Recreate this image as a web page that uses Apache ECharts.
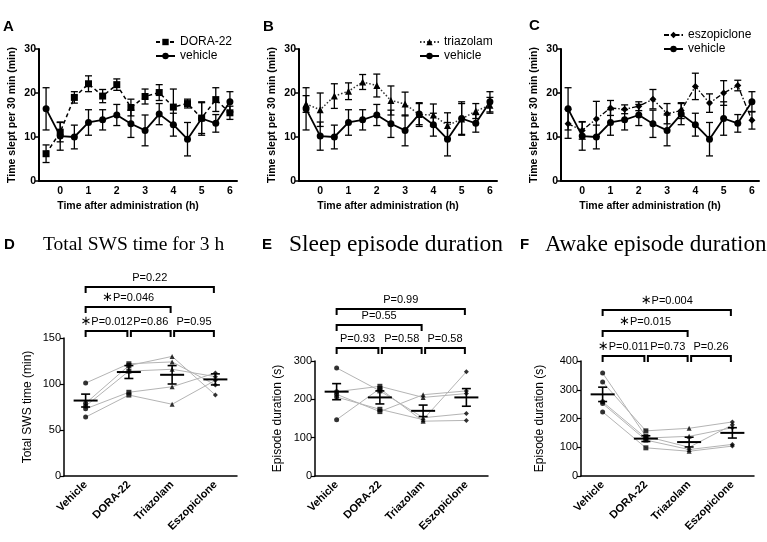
<!DOCTYPE html>
<html><head><meta charset="utf-8">
<script src="https://cdn.jsdelivr.net/npm/echarts@6/dist/echarts.min.js"></script>
<style>html,body{margin:0;padding:0;background:#fff}#c{width:767px;height:542px}</style>
</head><body><div id="c"></div>
<script>
// ---------- DATA ----------
const times = ['-0.5','0','0.5','1','1.5','2','2.5','3','3.5','4','4.5','5','5.5','6'];
const yTicksTop = [0, 10, 20, 30];

const vehicleMean = [16.4, 10.2, 10.0, 13.3, 13.9, 15.0, 13.0, 11.5, 15.2, 12.8, 9.5, 14.2, 13.1, 18.0];
const vehicleSem  = [4.8, 3.2, 2.7, 2.9, 2.3, 2.4, 3.1, 3.5, 2.4, 2.6, 3.8, 3.8, 2.0, 2.3];

const dora22Mean = [6.2, 11.1, 19.0, 22.1, 19.3, 21.9, 16.7, 19.2, 20.1, 16.8, 17.6, 14.3, 18.5, 15.5];
const dora22Sem  = [2.0, 2.2, 1.3, 1.8, 1.5, 1.3, 1.9, 1.7, 1.8, 4.1, 1.0, 3.5, 2.7, 1.5];

const triazolamMean = [17.5, 16.2, 19.3, 20.4, 22.5, 21.7, 18.3, 17.5, 15.1, 15.0, 12.6, 14.1, 15.9, 17.2];
const triazolamSem  = [1.9, 3.8, 2.8, 1.9, 1.7, 2.6, 3.3, 2.7, 2.7, 2.5, 2.9, 3.5, 1.7, 1.8];

const eszopicloneMean = [13.0, 11.5, 14.1, 16.6, 16.3, 17.0, 18.6, 15.3, 16.0, 21.5, 17.7, 20.0, 21.7, 13.8];
const eszopicloneSem  = [3.3, 2.0, 4.0, 1.7, 1.0, 1.0, 2.2, 2.3, 1.8, 3.0, 2.1, 2.8, 1.2, 2.0];

const groups = ['Vehicle', 'DORA-22', 'Triazolam', 'Eszopiclone'];

// Total SWS time for 3 h (min), individual animals across groups
const swsAnimals = [
  [101, 122, 124, 99],
  [79, 120, 130, 88],
  [76, 114, 116, 108],
  [73, 91, 97, 112],
  [64, 88, 78, 104]
];
const swsMean = [82, 113, 110, 105];
const swsSem  = [7, 7, 10, 6];
const swsBrackets = [[0, 1, '∗P=0.012', 0], [1, 2, 'P=0.86', 0], [2, 3, 'P=0.95', 0], [0, 2, '∗P=0.046', 1], [0, 3, 'P=0.22', 2]];

// Sleep episode duration (s)
const sleepAnimals = [
  [282, 222, 152, 163],
  [220, 234, 205, 215],
  [213, 168, 212, 222],
  [206, 174, 147, 272],
  [147, 228, 143, 145]
];
const sleepMean = [220, 205, 170, 205];
const sleepSem  = [21, 17, 15, 23];
const sleepBrackets = [[0, 1, 'P=0.93', 0], [1, 2, 'P=0.58', 0], [2, 3, 'P=0.58', 0], [0, 2, 'P=0.55', 1], [0, 3, 'P=0.99', 2]];

// Awake episode duration (s)
const awakeAnimals = [
  [358, 138, 100, 178],
  [327, 157, 166, 188],
  [258, 132, 138, 168],
  [252, 125, 92, 110],
  [223, 98, 86, 104]
];
const awakeMean = [284, 130, 118, 150];
const awakeSem  = [25, 10, 17, 18];
const awakeBrackets = [[0, 1, '∗P=0.011', 0], [1, 2, 'P=0.73', 0], [2, 3, 'P=0.26', 0], [0, 2, '∗P=0.015', 1], [0, 3, '∗P=0.004', 2]];

// ---------- LAYOUT / STYLE ----------
const SANS = '"Liberation Sans", Arial, Helvetica, sans-serif';
const SERIF = '"Liberation Serif", "Times New Roman", serif';
const topGrids = [
  {left: 39, top: 49, width: 198, height: 132},
  {left: 299, top: 49, width: 198, height: 132},
  {left: 561, top: 49, width: 198, height: 132}
];
const botGrids = [
  {left: 64, top: 338, width: 173, height: 138},
  {left: 315, top: 361, width: 173, height: 115},
  {left: 581, top: 361, width: 173, height: 115}
];
const botYMax = [150, 300, 400];
const botYInt = [50, 100, 100];
const botYName = ['Total SWS time (min)', 'Episode duration (s)', 'Episode duration (s)'];
const botNameGap = [30, 31, 35];
const bracketLevels = [[331, 307, 287], [348, 325, 309], [356, 331, 310]];
const groupSymbols = ['circle', 'rect', 'triangle', 'diamond'];

const chart = echarts.init(document.getElementById('c'), null, {renderer: 'canvas'});

const grid = [], xAxis = [], yAxis = [], series = [];

topGrids.forEach((g, k) => {
  grid.push(Object.assign({containLabel: false}, g));
  xAxis.push({
    gridIndex: k, type: 'category', data: times, boundaryGap: true,
    axisLine: {lineStyle: {color: '#000', width: 2}},
    axisTick: {alignWithLabel: true, interval: 0, length: 4, lineStyle: {color: '#000', width: 1.5}},
    axisLabel: {interval: (i) => i % 2 === 1, color: '#000', fontWeight: 'bold', fontSize: 10.5, fontFamily: SANS, margin: 5},
    name: 'Time after administration (h)', nameLocation: 'middle', nameGap: 20,
    nameTextStyle: {color: '#000', fontWeight: 'bold', fontSize: 10.5, fontFamily: SANS, padding: [0, 20, 0, 0]}
  });
  yAxis.push({
    gridIndex: k, type: 'value', min: yTicksTop[0], max: yTicksTop[yTicksTop.length - 1], interval: 10,
    axisLine: {show: true, lineStyle: {color: '#000', width: 2}},
    axisTick: {show: true, length: 4, lineStyle: {color: '#000', width: 1.5}},
    splitLine: {show: false},
    axisLabel: {color: '#000', fontWeight: 'bold', fontSize: 10.5, fontFamily: SANS, margin: 3},
    name: 'Time slept per 30 min (min)', nameLocation: 'middle', nameGap: 21,
    nameTextStyle: {color: '#000', fontWeight: 'bold', fontSize: 10.5, fontFamily: SANS}
  });
});

botGrids.forEach((g, k) => {
  grid.push(Object.assign({containLabel: false}, g));
  xAxis.push({
    gridIndex: 3 + k, type: 'category', data: groups, boundaryGap: true,
    axisLine: {lineStyle: {color: '#000', width: 1.5}},
    axisTick: {alignWithLabel: true, length: 4, lineStyle: {color: '#000', width: 1.2}},
    axisLabel: {interval: 0, rotate: 45, color: '#000', fontWeight: 'bold', fontSize: 11, fontFamily: SANS, margin: 7}
  });
  yAxis.push({
    gridIndex: 3 + k, type: 'value', min: 0, max: botYMax[k], interval: botYInt[k],
    axisLine: {show: true, lineStyle: {color: '#000', width: 1.5}},
    axisTick: {show: true, length: 4, lineStyle: {color: '#000', width: 1.2}},
    splitLine: {show: false},
    axisLabel: {color: '#000', fontSize: 11, fontFamily: SANS, margin: 3},
    name: botYName[k], nameLocation: 'middle', nameGap: botNameGap[k],
    nameTextStyle: {color: '#000', fontSize: 12, fontFamily: SANS}
  });
});

function errorBars(k, means, sems) {
  return {
    type: 'custom', xAxisIndex: k, yAxisIndex: k, z: 2, silent: true,
    encode: {x: 0, y: [1, 2]},
    data: means.map((m, i) => [i, m - sems[i], m + sems[i]]),
    renderItem: (params, api) => {
      const x = api.value(0);
      const p1 = api.coord([x, api.value(2)]);
      const p2 = api.coord([x, api.value(1)]);
      const st = {stroke: '#000', lineWidth: 1.3};
      return {type: 'group', children: [
        {type: 'line', shape: {x1: p1[0], y1: p1[1], x2: p2[0], y2: p2[1]}, style: st},
        {type: 'line', shape: {x1: p1[0] - 3.5, y1: p1[1], x2: p1[0] + 3.5, y2: p1[1]}, style: st},
        {type: 'line', shape: {x1: p2[0] - 3.5, y1: p2[1], x2: p2[0] + 3.5, y2: p2[1]}, style: st}
      ]};
    }
  };
}

function meanLine(k, name, data, symbol, lineStyle, size) {
  return {
    type: 'line', name: name, xAxisIndex: k, yAxisIndex: k, data: data, z: 3,
    symbol: symbol, symbolSize: size, showSymbol: true,
    itemStyle: {color: '#000'}, lineStyle: lineStyle, color: '#000'
  };
}

const drugTop = [
  ['DORA-22', dora22Mean, dora22Sem, 'rect', {color: '#000', width: 1.5, type: [4, 3]}, 7],
  ['triazolam', triazolamMean, triazolamSem, 'triangle', {color: '#333', width: 1.5, type: [1.5, 2]}, 7],
  ['eszopiclone', eszopicloneMean, eszopicloneSem, 'diamond', {color: '#000', width: 1.3, type: [5, 2, 1.5, 2]}, 7]
];
drugTop.forEach((d, k) => {
  series.push(errorBars(k, vehicleMean, vehicleSem));
  series.push(errorBars(k, d[1], d[2]));
  series.push(meanLine(k, 'vehicle', vehicleMean, 'circle', {color: '#000', width: 1.8, type: 'solid'}, 7));
  series.push(meanLine(k, d[0], d[1], d[3], d[4], d[5]));
});

const botSets = [
  [swsAnimals, swsMean, swsSem, swsBrackets],
  [sleepAnimals, sleepMean, sleepSem, sleepBrackets],
  [awakeAnimals, awakeMean, awakeSem, awakeBrackets]
];
botSets.forEach((set, k) => {
  const ai = 3 + k;
  const [animals, means, sems, brackets] = set;
  animals.forEach((a) => {
    series.push({type: 'line', xAxisIndex: ai, yAxisIndex: ai, data: a, showSymbol: false, symbol: 'none',
      lineStyle: {color: '#b4b4b4', width: 1}, z: 1, silent: true});
  });
  groups.forEach((gname, gi) => {
    series.push({type: 'scatter', xAxisIndex: ai, yAxisIndex: ai, symbol: groupSymbols[gi], symbolSize: 5,
      itemStyle: {color: '#000'}, z: 2, silent: true,
      data: animals.map((a) => [gi, a[gi]])});
  });
  series.push({
    type: 'custom', xAxisIndex: ai, yAxisIndex: ai, z: 4, silent: true,
    encode: {x: 0, y: [1, 2, 3]},
    data: means.map((m, i) => [i, m, m - sems[i], m + sems[i]]),
    renderItem: (params, api) => {
      const x = api.value(0);
      const pm = api.coord([x, api.value(1)]);
      const pl = api.coord([x, api.value(2)]);
      const ph = api.coord([x, api.value(3)]);
      const st = {stroke: '#000', lineWidth: 2};
      return {type: 'group', children: [
        {type: 'line', shape: {x1: pm[0] - 12, y1: pm[1], x2: pm[0] + 12, y2: pm[1]}, style: st},
        {type: 'line', shape: {x1: ph[0], y1: ph[1], x2: pl[0], y2: pl[1]}, style: {stroke: '#000', lineWidth: 1.6}},
        {type: 'line', shape: {x1: ph[0] - 4.5, y1: ph[1], x2: ph[0] + 4.5, y2: ph[1]}, style: {stroke: '#000', lineWidth: 1.6}},
        {type: 'line', shape: {x1: pl[0] - 4.5, y1: pl[1], x2: pl[0] + 4.5, y2: pl[1]}, style: {stroke: '#000', lineWidth: 1.6}}
      ]};
    }
  });
  series.push({
    type: 'custom', xAxisIndex: ai, yAxisIndex: ai, z: 5, silent: true, clip: false,
    encode: {x: [0, 1]},
    data: brackets.map((b) => [b[0], b[1]]),
    renderItem: (params, api) => {
      const b = brackets[params.dataIndex];
      const xa = api.coord([b[0], 0])[0] + (b[0] > 0 ? 2 : 0);
      const xb = api.coord([b[1], 0])[0] - 1.5;
      const y = bracketLevels[k][b[3]];
      let txt = b[2];
      if (txt.charAt(0) === '∗') txt = '{s|∗}' + txt.slice(1);
      return {type: 'group', children: [
        {type: 'polyline', shape: {points: [[xa, y + 6], [xa, y], [xb, y], [xb, y + 6]]},
          style: {stroke: '#000', lineWidth: 2, fill: null}},
        {type: 'text', x: (xa + xb) / 2, y: y - 9,
          style: {text: txt, fill: '#000', fontSize: 11, fontFamily: SANS,
            textAlign: 'center', textVerticalAlign: 'middle', align: 'center', verticalAlign: 'middle',
            rich: {s: {fontSize: 13, fontFamily: '"DejaVu Sans", sans-serif', fill: '#000'}}}}
      ]};
    }
  });
});

const legends = [
  {left: 155, top: 36, data: ['DORA-22', 'vehicle']},
  {left: 419, top: 36, data: ['triazolam', 'vehicle']},
  {left: 663, top: 29, data: ['eszopiclone', 'vehicle']}
].map((l) => Object.assign({
  orient: 'vertical', itemWidth: 19, itemHeight: 8, itemGap: 2, padding: 0, selectedMode: false,
  textStyle: {color: '#000', fontSize: 12, fontFamily: SANS}
}, l));

const letterStyle = (t) => ({text: t, font: 'bold 15px ' + SANS, fill: '#000', textVerticalAlign: 'middle', verticalAlign: 'middle'});
const titleStyle = (t, sz) => ({text: t, font: sz + 'px ' + SERIF, fill: '#000', textVerticalAlign: 'middle', verticalAlign: 'middle'});
const graphic = [
  {type: 'text', x: 3, y: 27, style: letterStyle('A')},
  {type: 'text', x: 263, y: 27, style: letterStyle('B')},
  {type: 'text', x: 529, y: 26, style: letterStyle('C')},
  {type: 'text', x: 4, y: 245, style: letterStyle('D')},
  {type: 'text', x: 262, y: 245, style: letterStyle('E')},
  {type: 'text', x: 520, y: 245, style: letterStyle('F')},
  {type: 'text', x: 43, y: 245, style: titleStyle('Total SWS time for 3 h', 19.5)},
  {type: 'text', x: 289, y: 245, style: titleStyle('Sleep episode duration', 23.5)},
  {type: 'text', x: 545, y: 245, style: titleStyle('Awake episode duration', 23)}
];

chart.setOption({
  animation: false,
  backgroundColor: '#fff',
  grid: grid, xAxis: xAxis, yAxis: yAxis, series: series,
  legend: legends, graphic: graphic
});
</script>
</body></html>
